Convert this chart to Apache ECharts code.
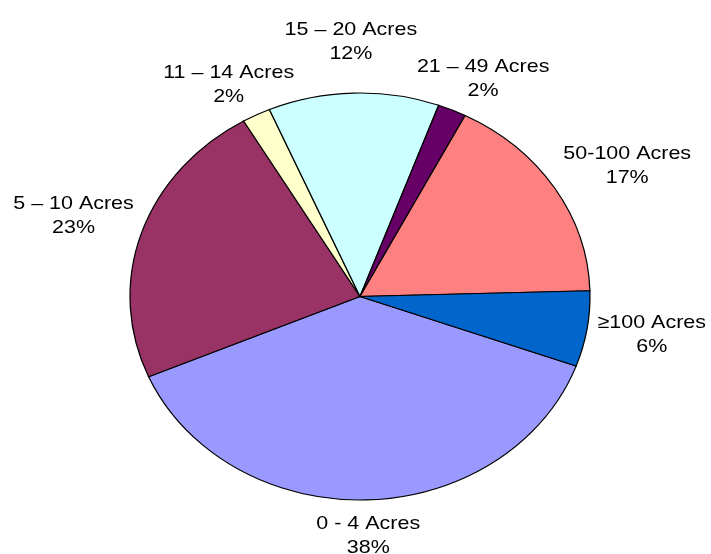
<!DOCTYPE html>
<html>
<head>
<meta charset="utf-8">
<script src="https://cdn.jsdelivr.net/npm/echarts@6/dist/echarts.min.js"></script>
<style>
  html, body { margin: 0; padding: 0; background: #fff; }
  #chart { width: 711px; height: 554px; }
</style>
</head>
<body>
<div id="chart"></div>
<script>
// Farm size classes and their share of holdings (%)
const categories = ['0 - 4 Acres', '5 – 10 Acres', '11 – 14 Acres', '15 – 20 Acres', '21 – 49 Acres', '50-100 Acres', '≥100 Acres'];
const shares = [38, 23, 2, 12, 2, 17, 6];
const sliceColors = ['#9999FF', '#993366', '#FFFFCC', '#CCFFFF', '#660066', '#FF8080', '#0066CC'];

// Layout of the (horizontally stretched) pie
const CX = 360, CY = 296.5;
const RX = 230, RY = 203.5;
const STRETCH = RX / RY;
const START_DEG = 20;          // first slice starts 20° below 3 o'clock, clockwise
const LABEL_GAP = 10;          // distance between rim and label box
const LABEL_LIFT = [2, 0, 0, 17, 0, 0, 0];  // extra outward push to keep labels apart
// small screen-pixel nudges for label placement
const LABEL_NUDGE = [[0, 0], [0, -7], [7, 0], [0, 0], [0, 0], [9, -4], [0, 0]];
const FONT_SIZE = 19, LINE_H = 24;
const FONT_FAMILY = '"Liberation Sans", Arial, Helvetica, sans-serif';

const total = shares.reduce((a, b) => a + b, 0);

// measure label widths (in unstretched units)
const measureCtx = document.createElement('canvas').getContext('2d');
measureCtx.font = FONT_SIZE + 'px ' + FONT_FAMILY;

const slices = [];
let acc = START_DEG * Math.PI / 180;
shares.forEach((v, i) => {
  const span = v / total * Math.PI * 2;
  const a0 = acc, a1 = acc + span;
  acc = a1;
  const mid = (a0 + a1) / 2;
  const lines = [categories[i], v + '%'];
  const w = Math.max(...lines.map(t => measureCtx.measureText(t).width));
  const halfW = w / 2, halfH = LINE_H;
  const c = Math.cos(mid), s = Math.sin(mid);
  const d = RY + LABEL_GAP + LABEL_LIFT[i];
  slices.push({
    a0, a1,
    lx: d * c + halfW * c + LABEL_NUDGE[i][0] / STRETCH,
    ly: d * s + halfH * s + LABEL_NUDGE[i][1],
    text: lines.join('\n')
  });
});

const chart = echarts.init(document.getElementById('chart'), null, { renderer: 'canvas' });
chart.setOption({
  animation: false,
  backgroundColor: '#ffffff',
  series: [{
    type: 'custom',
    coordinateSystem: 'none',
    data: shares.map((v, i) => ({ value: v, name: categories[i] })),
    renderItem: function (params, api) {
      const i = params.dataIndex;
      const sl = slices[i];
      return {
        type: 'group',
        x: CX, y: CY,
        scaleX: STRETCH, scaleY: 1,
        children: [{
          type: 'sector',
          shape: { cx: 0, cy: 0, r0: 0, r: RY, startAngle: sl.a0, endAngle: sl.a1, clockwise: true },
          style: { fill: sliceColors[i], stroke: '#000000', lineWidth: 1.1 }
        }, {
          type: 'text',
          x: sl.lx, y: sl.ly,
          style: {
            text: sl.text,
            fill: '#000000',
            fontSize: FONT_SIZE,
            fontFamily: FONT_FAMILY,
            lineHeight: LINE_H,
            align: 'center',
            verticalAlign: 'middle'
          }
        }]
      };
    }
  }]
});
</script>
</body>
</html>
